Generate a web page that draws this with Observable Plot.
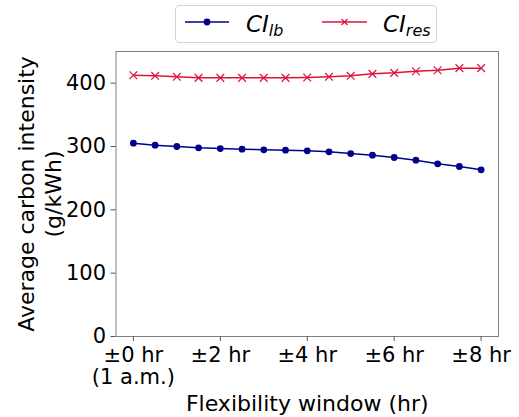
<!DOCTYPE html>
<html>
<head>
<meta charset="utf-8">
<script src="https://cdn.jsdelivr.net/npm/d3@7"></script>
<script src="https://cdn.jsdelivr.net/npm/@observablehq/plot@0.6"></script>
<style>
  body { margin: 0; background: white; }
  #wrap { position: relative; width: 519px; height: 417px; font-family: "DejaVu Sans", sans-serif; }
  .legend { position: absolute; left: 175px; top: 5px; width: 260px; height: 36px; border: 1px solid #d4d4d4; border-radius: 4px; background: white; }
  .ltxt { position: absolute; font-style: italic; font-size: 23px; line-height: 23px; white-space: nowrap; }
  .ltxt span { font-size: 16px; position: relative; top: 4px; }
</style>
</head>
<body>
<div id="wrap"></div>
<script>
const hours = [0, 0.5, 1, 1.5, 2, 2.5, 3, 3.5, 4, 4.5, 5, 5.5, 6, 6.5, 7, 7.5, 8];
const ciLb = [305.3, 302.1, 300.0, 297.9, 296.8, 295.8, 294.7, 294.2, 293.2, 291.6, 288.9, 286.3, 282.6, 278.4, 272.6, 268.4, 263.2];
const ciRes = [412.6, 411.6, 410.0, 408.4, 408.4, 408.4, 408.4, 408.4, 408.9, 410.0, 411.6, 414.7, 416.3, 418.9, 420.5, 423.7, 423.7];
const xTicks = [0, 2, 4, 6, 8];
const xTickLabels = ["±0 hr\n(1 a.m.)", "±2 hr", "±4 hr", "±6 hr", "±8 hr"];
const yTicks = [0, 100, 200, 300, 400];
const xLabel = "Flexibility window (hr)";
const yLabel = "Average carbon intensity\n(g/kWh)";
const seriesNames = ["CI_lb", "CI_res"];
const colors = ["#00008B", "#DC143C"];

const lbData = hours.map((h, i) => ({h, v: ciLb[i]}));
const resData = hours.map((h, i) => ({h, v: ciRes[i]}));

const chart = Plot.plot({
  width: 519,
  height: 417,
  marginLeft: 115.5,
  marginRight: 21,
  marginTop: 51,
  marginBottom: 81,
  style: {fontFamily: "DejaVu Sans", fontSize: "21px", color: "black", background: "white", overflow: "visible"},
  x: {domain: [-0.4, 8.4]},
  y: {domain: [0, 450]},
  marks: [
    Plot.frame({stroke: "#7f7f7f", strokeWidth: 1}),
    Plot.axisX({ticks: xTicks, tickFormat: d => xTickLabels[xTicks.indexOf(d)], tickSize: 5, tickPadding: 5, fontSize: 21, label: null, stroke: "#555", lineHeight: 1.05}),
    Plot.axisY({ticks: yTicks, tickSize: 5, tickPadding: 5, fontSize: 21, label: null, stroke: "#555"}),
    Plot.text([xLabel], {frameAnchor: "bottom", text: d => d, lineAnchor: "top", dy: 59, fontSize: 22, fill: "black"}),
    Plot.text([yLabel], {frameAnchor: "left", text: d => d, rotate: -90, lineAnchor: "middle", textAnchor: "middle", dx: -77, lineHeight: 1.22, fontSize: 22, fill: "black"}),
    Plot.line(lbData, {x: "h", y: "v", stroke: colors[0], strokeWidth: 1.5}),
    Plot.dot(lbData, {x: "h", y: "v", fill: colors[0], r: 3.4}),
    Plot.line(resData, {x: "h", y: "v", stroke: colors[1], strokeWidth: 1.5}),
    Plot.dot(resData, {x: "h", y: "v", stroke: colors[1], symbol: "times", r: 3.6, strokeWidth: 1.2})
  ]
});

const wrap = document.getElementById("wrap");
wrap.appendChild(chart);

// legend
const leg = document.createElement("div");
leg.className = "legend";
wrap.appendChild(leg);
const ns = "http://www.w3.org/2000/svg";
const lsvg = document.createElementNS(ns, "svg");
lsvg.setAttribute("width", 519);
lsvg.setAttribute("height", 45);
lsvg.style.position = "absolute";
lsvg.style.left = "0px";
lsvg.style.top = "0px";
const samples = [[185, 229], [322, 367]];
samples.forEach(([a, b], i) => {
  const ln = document.createElementNS(ns, "line");
  ln.setAttribute("x1", a); ln.setAttribute("x2", b);
  ln.setAttribute("y1", 22); ln.setAttribute("y2", 22);
  ln.setAttribute("stroke", colors[i]); ln.setAttribute("stroke-width", 1.5);
  lsvg.appendChild(ln);
  const cx = (a + b) / 2;
  if (i === 0) {
    const c = document.createElementNS(ns, "circle");
    c.setAttribute("cx", cx); c.setAttribute("cy", 22); c.setAttribute("r", 3.4);
    c.setAttribute("fill", colors[i]);
    lsvg.appendChild(c);
  } else {
    const p = document.createElementNS(ns, "path");
    const s = 3;
    p.setAttribute("d", `M${cx - s},${22 - s}L${cx + s},${22 + s}M${cx - s},${22 + s}L${cx + s},${22 - s}`);
    p.setAttribute("stroke", colors[i]); p.setAttribute("stroke-width", 1.2);
    lsvg.appendChild(p);
  }
});
wrap.appendChild(lsvg);
const labelX = [246, 383];
seriesNames.forEach((name, i) => {
  const [main, sub] = name.split("_");
  const t = document.createElement("div");
  t.className = "ltxt";
  t.style.left = labelX[i] + "px";
  t.style.top = "12.6px";
  t.innerHTML = `${main}<span>${sub}</span>`;
  wrap.appendChild(t);
});
</script>
</body>
</html>
